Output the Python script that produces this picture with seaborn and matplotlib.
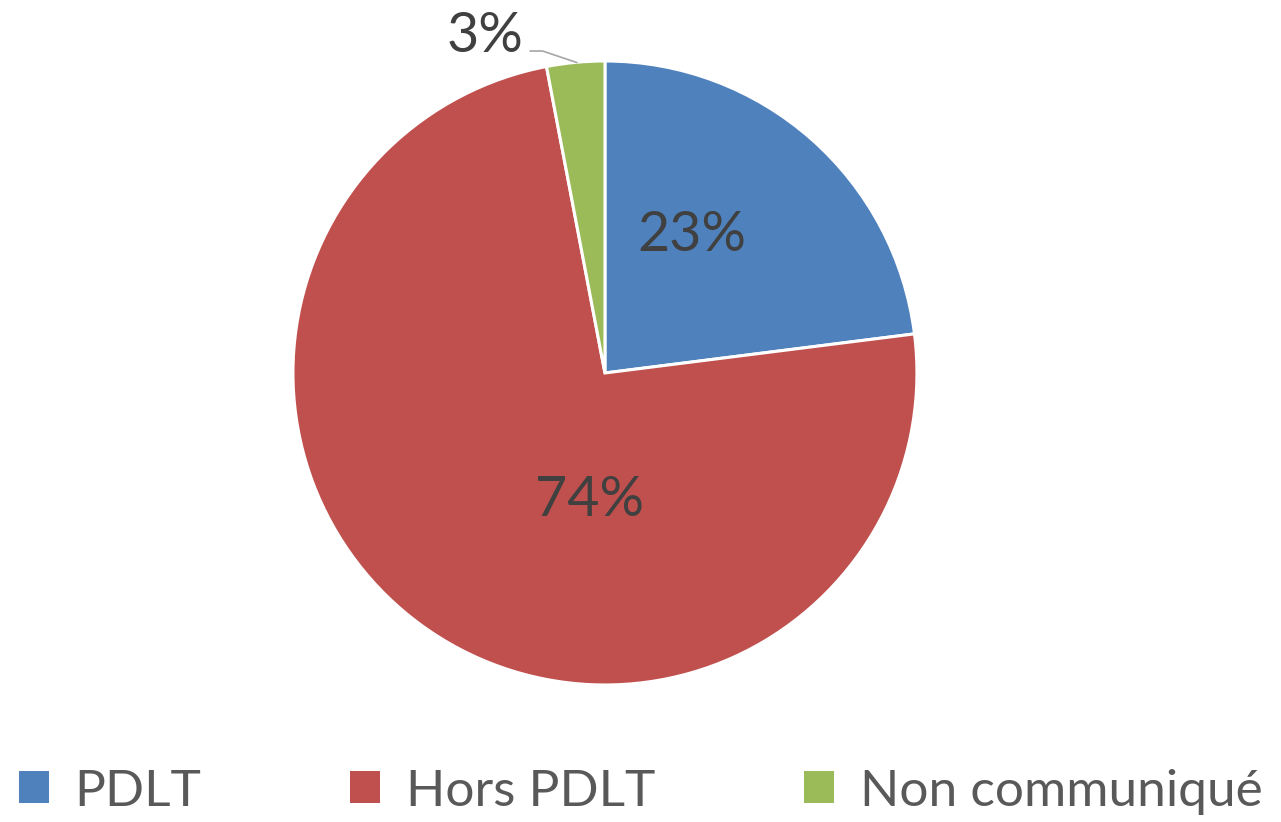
import matplotlib
matplotlib.use('Agg')
import matplotlib.pyplot as plt
import seaborn as sns
from matplotlib.patches import Patch

sns.set_style('white')
plt.rcParams['font.family'] = ['Lato', 'DejaVu Sans']

# Data
labels = ['PDLT', 'Hors PDLT', 'Non communiqué']
values = [23, 74, 3]
colors = ['#4F81BD', '#C0504D', '#9BBB59']

fig = plt.figure(figsize=(12.81, 8.22), dpi=100)
ax = fig.add_axes([0.2287, 0.1667, 0.4871, 0.7591])

wedges, texts, autotexts = ax.pie(
    values, colors=colors, startangle=90, counterclock=False,
    autopct='%1.0f%%', pctdistance=0.5,
    wedgeprops=dict(edgecolor='white', linewidth=2.2),
    textprops=dict(color='#404040', fontsize=40),
)
ax.set_xlim(-1, 1)
ax.set_ylim(-1, 1)
ax.set_aspect('equal')

# Excel-like label placement
autotexts[0].set_position((0.28, 0.44))
autotexts[1].set_position((-0.05, -0.41))
autotexts[2].set_position((-0.385, 1.08))
for t in autotexts:
    t.set_ha('center')
    t.set_va('center')

# leader line for the small slice
ax.plot([-0.24, -0.20, -0.09], [1.032, 1.032, 0.995], color='#A6A6A6', lw=1.2,
        clip_on=False)

handles = [Patch(facecolor=c, edgecolor='none') for c in colors]
leg = fig.legend(handles, labels, loc='center', ncol=3, frameon=False,
                 bbox_to_anchor=(0.5, 0.037), fontsize=37, handlelength=0.58,
                 handleheight=0.58, handletextpad=0.5, columnspacing=2.9,
                 borderpad=0, borderaxespad=0)
for t in leg.get_texts():
    t.set_color('#595959')

fig.savefig('out.png', dpi=100)
